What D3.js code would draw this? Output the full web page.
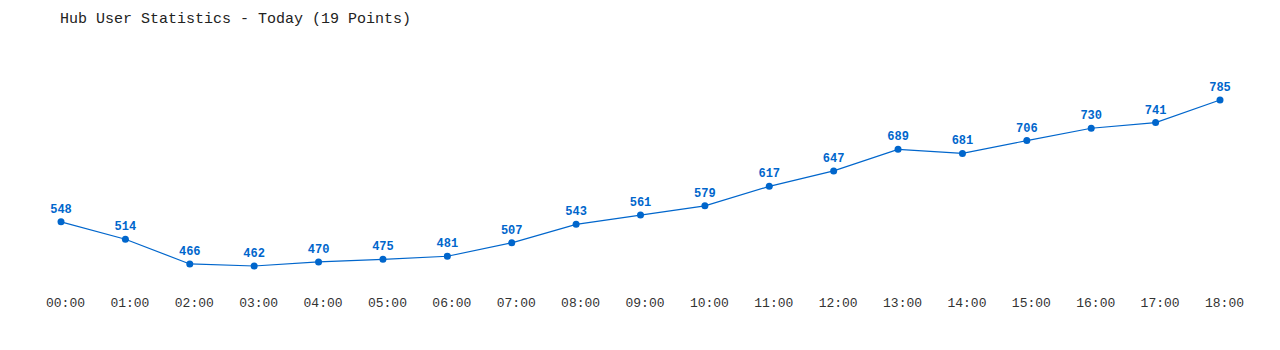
<!DOCTYPE html>
<html>
<head>
<meta charset="utf-8">
<script src="https://cdn.jsdelivr.net/npm/d3@7"></script>
<style>
  body { margin: 0; background: #fff; }
  svg { display: block; font-family: "Liberation Mono", "DejaVu Sans Mono", monospace; }
</style>
</head>
<body>
<svg width="1280" height="350"></svg>
<script>
"use strict"

const hours = ["00:00", "01:00", "02:00", "03:00", "04:00", "05:00", "06:00",
    "07:00", "08:00", "09:00", "10:00", "11:00", "12:00", "13:00", "14:00",
    "15:00", "16:00", "17:00", "18:00"]
const users = [548, 514, 466, 462, 470, 475, 481, 507, 543, 561, 579, 617,
    647, 689, 681, 706, 730, 741, 785]
const title = "Hub User Statistics - Today (19 Points)"

const blue = "#0066cc"
let svg = d3.select("svg")

let x = d3.scalePoint().domain(hours).range([61, 1220])
let y = d3.scaleLinear().domain(d3.extent(users)).range([266, 100])

svg.append("text")
    .attr("x", 60)
    .attr("y", 23)
    .attr("font-size", 15)
    .attr("fill", "#222")
    .text(title)

// x axis labels only, no line; labels sit a few px right of the points
let xAxis = svg.append("g")
    .attr("transform", "translate(4,290)")
    .call(d3.axisBottom(x).tickSize(0).tickPadding(8))
xAxis.select(".domain").remove()
xAxis.selectAll("text")
    .attr("font-family", "\"Liberation Mono\", \"DejaVu Sans Mono\", monospace")
    .attr("font-size", 13)
    .attr("fill", "#333")

let pts = hours.map((h, i) => ({h: h, v: users[i]}))

svg.append("path")
    .datum(pts)
    .attr("fill", "none")
    .attr("stroke", blue)
    .attr("stroke-width", 1.2)
    .attr("d", d3.line().x(d => x(d.h)).y(d => y(d.v)))

svg.selectAll(".dot")
    .data(pts)
    .enter().append("circle")
    .attr("class", "dot")
    .attr("cx", d => x(d.h))
    .attr("cy", d => y(d.v))
    .attr("r", 3.5)
    .attr("fill", blue)

svg.selectAll(".val")
    .data(pts)
    .enter().append("text")
    .attr("class", "val")
    .attr("x", d => x(d.h))
    .attr("y", d => y(d.v) - 9)
    .attr("text-anchor", "middle")
    .attr("font-size", 12)
    .attr("font-weight", "bold")
    .attr("fill", blue)
    .text(d => d.v)
</script>
</body>
</html>
